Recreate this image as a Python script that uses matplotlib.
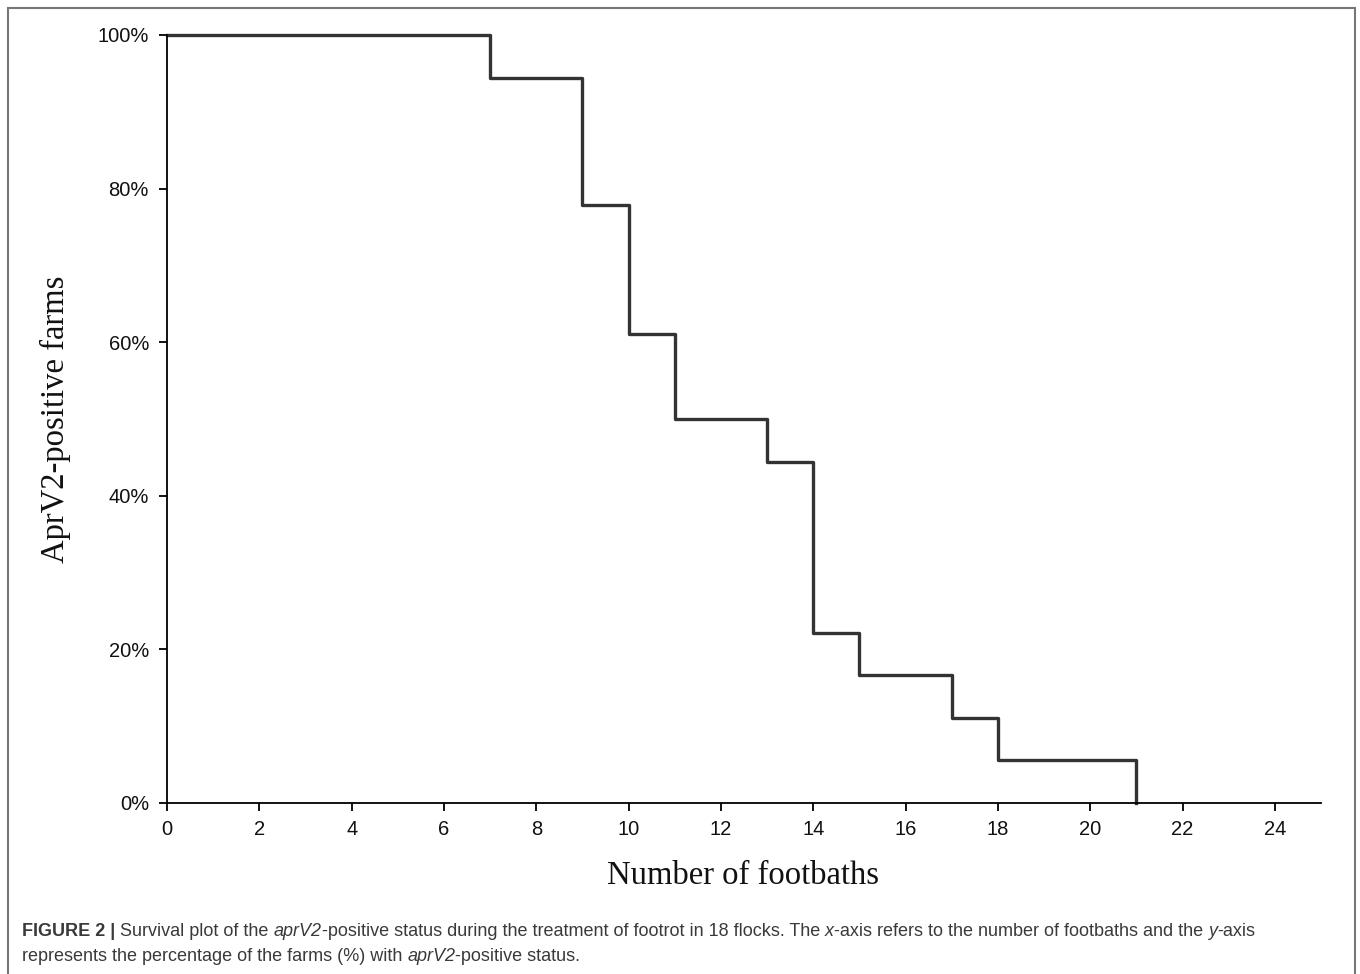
import matplotlib
matplotlib.use("Agg")
import matplotlib.pyplot as plt
from matplotlib.patches import Rectangle

#  ------- Data -------  #
footbaths = [0, 7, 9, 10, 11, 13, 14, 15, 17, 18, 21]
positive_pct = [100, 94.4, 77.8, 61.1, 50.0, 44.4, 22.2, 16.7, 11.1, 5.6, 0]
x_ticks = [0, 2, 4, 6, 8, 10, 12, 14, 16, 18, 20, 22, 24]
y_ticks = [0, 20, 40, 60, 80, 100]
y_labels = ["0%", "20%", "40%", "60%", "80%", "100%"]

tick_font = ["Liberation Sans Narrow", "Liberation Sans", "DejaVu Sans"]
serif_font = ["Liberation Serif", "DejaVu Serif"]
cap_font = ["Liberation Sans", "DejaVu Sans"]

fig = plt.figure(figsize=(13.6, 9.74), dpi=100)
W, H = 1360, 974

# outer frame of the figure panel
fig.patches.append(Rectangle((8 / W, -0.01), 1347 / W, 1 - 8 / H + 0.01,
                             transform=fig.transFigure, fill=False,
                             edgecolor="#777777", linewidth=1.5))

ax = fig.add_axes([167 / W, 1 - 803 / H, (1321 - 167) / W, (803 - 35) / H])
ax.step(footbaths, positive_pct, where="post", color="#333333",
        linewidth=2.4, clip_on=False)

ax.set_xlim(0, 25)
ax.set_ylim(0, 100)
ax.spines["top"].set_visible(False)
ax.spines["right"].set_visible(False)
for s in ["left", "bottom"]:
    ax.spines[s].set_linewidth(1.3)
ax.set_xticks(x_ticks)
ax.set_yticks(y_ticks)
ax.set_yticklabels(y_labels)
ax.tick_params(direction="out", length=6, width=1.3)
ax.tick_params(axis="x", pad=6)
ax.tick_params(axis="y", pad=7)
for lab in ax.get_xticklabels() + ax.get_yticklabels():
    lab.set_family(tick_font)
    lab.set_fontsize(14.5)
    lab.set_color("#111111")

fig.text(743 / W, 1 - 876 / H, "Number of footbaths", family=serif_font,
         fontsize=23.5, ha="center", va="center", color="#111111")
fig.text(55 / W, 1 - 419 / H, "AprV2-positive farms", family=serif_font,
         fontsize=23.5, ha="center", va="center", rotation=90, color="#111111")

#  ------- Caption with mixed styles -------  #
renderer = fig.canvas.get_renderer()


def caption_line(pieces, x_px, y_px):
    x = x_px
    for txt, weight, style in pieces:
        t = fig.text(x / W, 1 - y_px / H, txt, family=cap_font, fontsize=13,
                     weight=weight, style=style, color="#3a3a3a",
                     ha="left", va="baseline")
        bb = t.get_window_extent(renderer=renderer)
        x += bb.width


caption_line([
    ("FIGURE 2 | ", "bold", "normal"),
    ("Survival plot of the ", "normal", "normal"),
    ("aprV2", "normal", "italic"),
    ("-positive status during the treatment of footrot in 18 flocks. The ", "normal", "normal"),
    ("x", "normal", "italic"),
    ("-axis refers to the number of footbaths and the ", "normal", "normal"),
    ("y", "normal", "italic"),
    ("-axis", "normal", "normal"),
], 22, 936)
caption_line([
    ("represents the percentage of the farms (%) with ", "normal", "normal"),
    ("aprV2", "normal", "italic"),
    ("-positive status.", "normal", "normal"),
], 22, 961)

fig.savefig("out.png", dpi=100)
